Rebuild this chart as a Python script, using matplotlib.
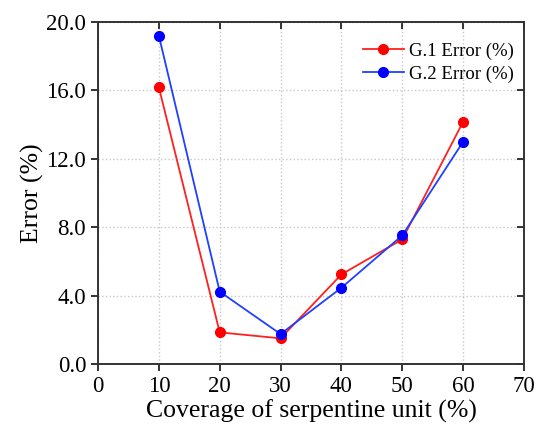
import matplotlib
matplotlib.use('Agg')
import matplotlib.pyplot as plt

coverage = [10, 20, 30, 40, 50, 60]
g1_error = [16.18, 1.85, 1.50, 5.24, 7.29, 14.17]
g2_error = [19.20, 4.23, 1.75, 4.46, 7.52, 13.00]

plt.rcParams['font.family'] = ['Liberation Serif', 'DejaVu Serif']

fig = plt.figure(figsize=(5.37, 4.34), dpi=100)
ax = fig.add_axes([0.1825, 0.1613, 0.7933, 0.788])

ax.plot(coverage, g1_error, '-o', color='#ff2020', mfc='#ff0000', mec='#ff0000',
        lw=1.3, markersize=7, label='G.1 Error (%)', zorder=3)
ax.plot(coverage, g2_error, '-o', color='#2040ff', mfc='#0000ff', mec='#0000ff',
        lw=1.3, markersize=7, label='G.2 Error (%)', zorder=3)

ax.set_xlim(0, 70)
ax.set_ylim(0, 20)
ax.set_xticks(range(0, 71, 10))
ax.set_yticks([0, 4, 8, 12, 16, 20])
ax.set_yticklabels([f'{v:.1f}' for v in [0, 4, 8, 12, 16, 20]])
ax.grid(True, linestyle=':', color='#c8c8c8', linewidth=1.0)

for s in ax.spines.values():
    s.set_color('#333333')
    s.set_linewidth(1.4)
ax.tick_params(axis='both', which='major', labelsize=16.5, direction='out',
               length=5, width=1.4, color='#333333')
ax.tick_params(top=True, right=True)
for t in ax.xaxis.get_major_ticks():
    t.tick2line.set_marker(3)
for t in ax.yaxis.get_major_ticks():
    t.tick2line.set_marker(0)

ax.set_xlabel('Coverage of serpentine unit (%)', fontsize=18.5, labelpad=2)
ax.set_ylabel('Error (%)', fontsize=18.5, labelpad=2)

ax.legend(loc='upper right', frameon=False, fontsize=13.5, handlelength=2.2,
          borderaxespad=0.5, labelspacing=0.3, handletextpad=0.25,
          bbox_to_anchor=(1.015, 0.99))

fig.savefig('out.png', dpi=100)
